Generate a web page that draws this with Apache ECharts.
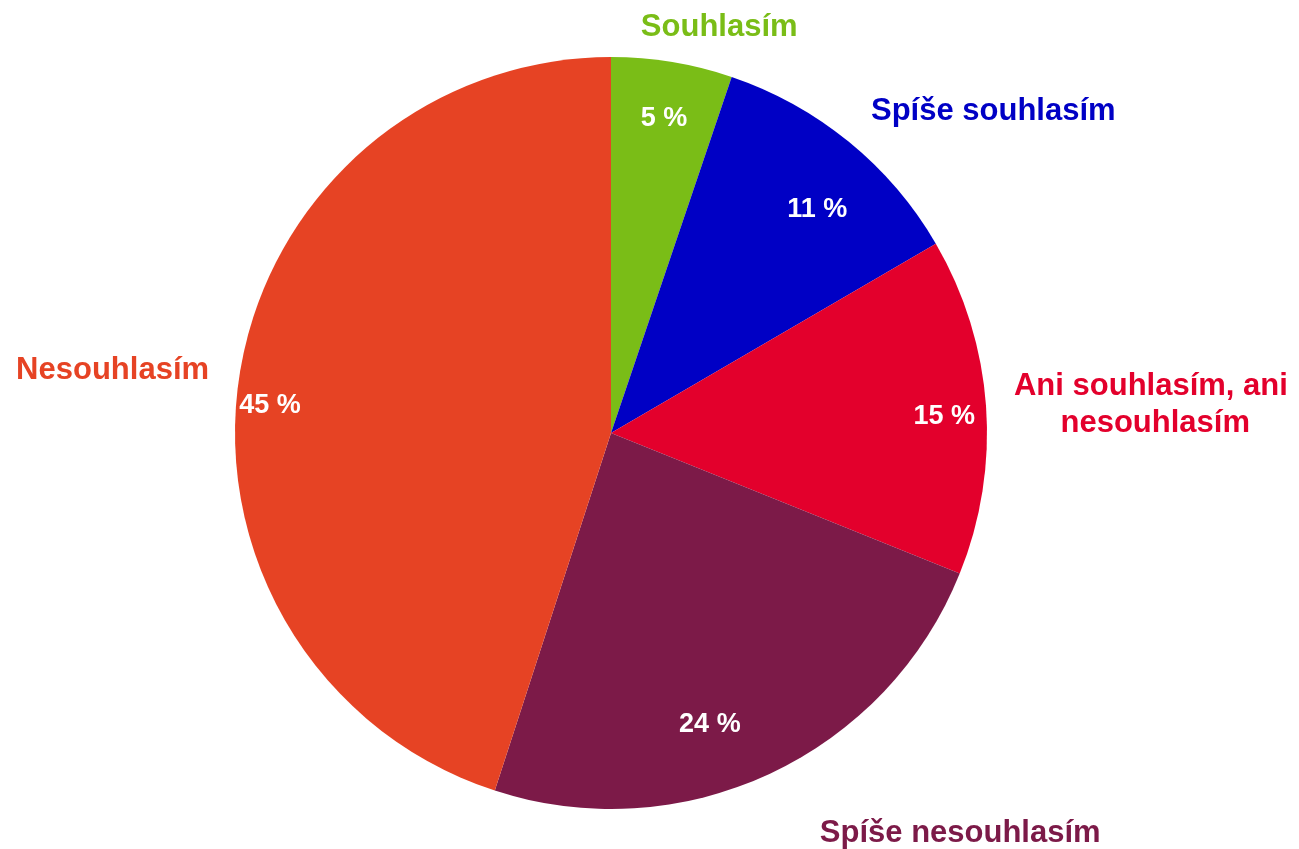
<!DOCTYPE html>
<html>
<head>
<meta charset="utf-8">
<script src="https://cdn.jsdelivr.net/npm/echarts@6/dist/echarts.min.js"></script>
<style>html,body{margin:0;padding:0;background:#fff}#c{width:1299px;height:849px}</style>
</head>
<body>
<div id="c"></div>
<script>
// ---- data ----
const categories = ['Souhlasím', 'Spíše souhlasím', 'Ani souhlasím, ani nesouhlasím', 'Spíše nesouhlasím', 'Nesouhlasím'];
const values = [5.2, 11.4, 14.5, 23.9, 45.0];

// ---- style ----
const colors = ['#7ABD17', '#0000C5', '#E3002C', '#7C1A48', '#E64324'];
const outerNudge = [[-37, 0], [0, -3], [-20, 2], [35, 28], [4, 2]];
const innerNudge = [[0, 7], [0, 29], [8, 7], [-39, -4], [-19, 24]];
const FONT = 'Liberation Sans, Arial, sans-serif';
const CENTER = [611, 433];
const R = 376;

const chart = echarts.init(document.getElementById('c'), null, {renderer: 'canvas'});

const outerData = categories.map((n, i) => ({
  name: n,
  value: values[i],
  itemStyle: {color: colors[i]},
  label: i === 2 ? {color: colors[i], width: 300, overflow: 'break'} : {color: colors[i]}
}));
const innerData = categories.map((n, i) => ({name: n, value: values[i]}));

chart.setOption({
  animation: false,
  backgroundColor: '#ffffff',
  series: [
    {
      type: 'pie',
      center: CENTER,
      radius: R,
      startAngle: 90,
      clockwise: true,
      avoidLabelOverlap: false,
      silent: true,
      itemStyle: {borderWidth: 0},
      label: {
        show: true,
        position: 'outside',
        formatter: '{b}',
        fontFamily: FONT,
        fontWeight: 'bold',
        fontSize: 31,
        lineHeight: 37,
        distanceToLabelLine: 0,
        bleedMargin: 2
      },
      labelLine: {show: false, length: 35, length2: 0},
      labelLayout: function (p) {
        const n = outerNudge[p.dataIndex];
        if (p.dataIndex === 2) {
          return {align: 'center', x: p.labelRect.x + p.labelRect.width / 2 + n[0], dy: n[1]};
        }
        return {dx: n[0], dy: n[1]};
      },
      data: outerData
    },
    {
      type: 'pie',
      center: CENTER,
      radius: [270, R],
      startAngle: 90,
      clockwise: true,
      avoidLabelOverlap: false,
      silent: true,
      itemStyle: {color: 'rgba(0,0,0,0)', borderWidth: 0},
      label: {
        show: true,
        position: 'inside',
        formatter: p => Math.round(p.percent) + ' %',
        color: '#ffffff',
        fontFamily: FONT,
        fontWeight: 'bold',
        fontSize: 27
      },
      labelLine: {show: false},
      labelLayout: function (p) {
        const n = innerNudge[p.dataIndex];
        return {dx: n[0], dy: n[1]};
      },
      data: innerData
    }
  ]
});
</script>
</body>
</html>
